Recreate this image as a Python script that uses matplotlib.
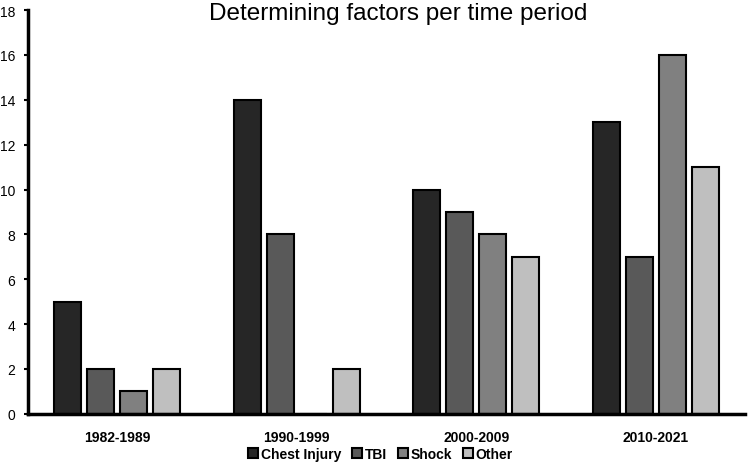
import matplotlib.pyplot as plt
import numpy as np

plt.rcParams['font.family'] = ['Liberation Sans', 'DejaVu Sans']

periods = ['1982-1989', '1990-1999', '2000-2009', '2010-2021']
series = ['Chest Injury', 'TBI', 'Shock', 'Other']
chest = [5, 14, 10, 13]
tbi = [2, 8, 9, 7]
shock = [1, 0, 8, 16]
other = [2, 2, 7, 11]
colors = ['#262626', '#595959', '#808080', '#bfbfbf']

fig = plt.figure(figsize=(7.49, 4.64), dpi=100)
ax = fig.add_axes([0.037, 0.106, 0.958, 0.87])

x = np.arange(len(periods))
slot = 0.184
width = 0.15
for i, (name, vals) in enumerate(zip(series, [chest, tbi, shock, other])):
    ax.bar(x + (i - 1.5) * slot, vals, width=width, color=colors[i],
           edgecolor='black', linewidth=1.5, label=name)

ax.set_xlim(-0.5, 3.5)
ax.set_ylim(0, 18)
ax.set_yticks(range(0, 19, 2))
ax.set_xticks(x)
ax.set_xticklabels(periods, fontweight='bold', fontsize=10)
ax.tick_params(axis='y', labelsize=10, length=3, width=1.5, direction='out', pad=6)
ax.tick_params(axis='x', length=0, pad=12)
for s in ['top', 'right']:
    ax.spines[s].set_visible(False)
ax.spines['left'].set_linewidth(2.5)
ax.spines['bottom'].set_linewidth(2.5)

ax.text(0.517, 0.977, 'Determining factors per time period', transform=ax.transAxes,
        ha='center', va='baseline', fontsize=17.5)

leg = fig.legend(loc='lower center', bbox_to_anchor=(0.508, -0.022), ncol=4, frameon=False,
                 prop={'weight': 'bold', 'size': 10}, handlelength=0.7, handleheight=0.7,
                 handletextpad=0.2, columnspacing=0.8)

fig.savefig('out.png', dpi=100)
